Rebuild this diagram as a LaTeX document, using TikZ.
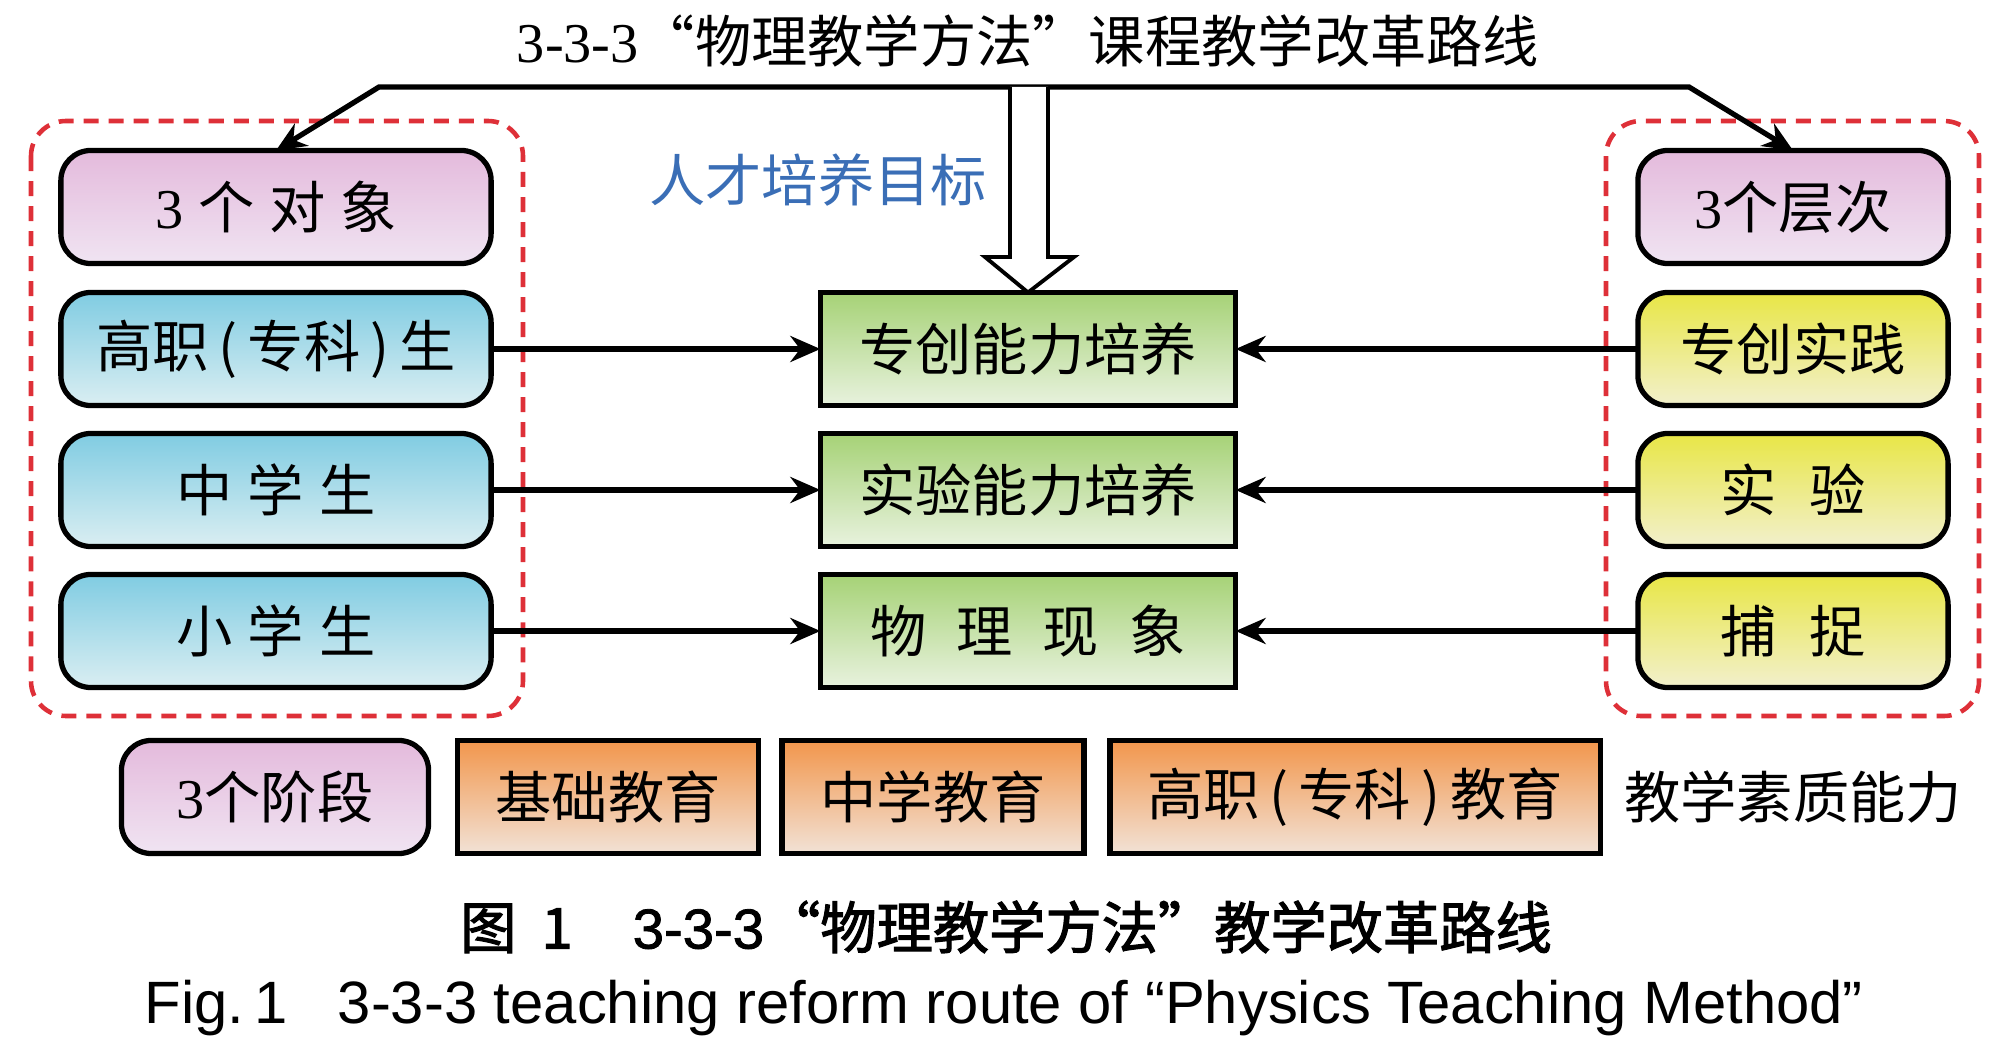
\documentclass[tikz,border=0pt]{standalone}
\usepackage{fontspec}
\setmainfont{Liberation Serif}
\newfontfamily\cjk{Noto Sans CJK SC}
\newfontfamily\cjkb[FakeBold=2]{Noto Sans CJK SC}
\newfontfamily\ser{Liberation Serif}
\newfontfamily\sans{Liberation Sans}
\newfontfamily\sansb[FakeBold=1.5]{Liberation Sans}
\usetikzlibrary{arrows.meta}
\definecolor{pinkT}{RGB}{228,186,220}
\definecolor{pinkB}{RGB}{240,228,242}
\definecolor{blueT}{RGB}{128,204,226}
\definecolor{blueB}{RGB}{218,238,242}
\definecolor{greenT}{RGB}{166,210,118}
\definecolor{greenB}{RGB}{232,242,222}
\definecolor{yelT}{RGB}{232,230,70}
\definecolor{yelB}{RGB}{242,240,204}
\definecolor{oraT}{RGB}{242,150,76}
\definecolor{oraB}{RGB}{242,226,214}
\definecolor{dashred}{RGB}{222,48,56}
\definecolor{tblue}{RGB}{58,110,182}
\tikzset{
  base/.style={draw=black, line width=1.5pt, inner sep=0pt, outer sep=0pt,
    minimum height=1.13cm, font=\cjk\fontsize{16pt}{18pt}\selectfont, align=center},
  rbox/.style={base, rounded corners=0.3cm},
  pinkbox/.style={rbox, top color=pinkT, bottom color=pinkB},
  bluebox/.style={rbox, top color=blueT, bottom color=blueB, minimum width=4.3cm},
  yelbox/.style={rbox, top color=yelT, bottom color=yelB, minimum width=3.1cm},
  greenbox/.style={base, top color=greenT, bottom color=greenB, minimum width=4.15cm},
  orabox/.style={base, top color=oraT, bottom color=oraB},
  arr/.style={line width=1.5pt, -{Stealth[length=0.3cm,width=0.26cm]}},
  grp/.style={draw=dashred, line width=1.3pt, dash pattern=on 0.15cm off 0.1cm, rounded corners=0.35cm}
}
\begin{document}
\begin{tikzpicture}[x=0.01cm,y=-0.01cm]
\useasboundingbox (0,0) rectangle (2000,1052);
% title
\node[font=\cjk\fontsize{16pt}{18pt}\selectfont] (title) at (1028,41) {{\ser 3-3-3}“物理教学方法”课程教学改革路线};
% dashed groups
\draw[grp] (31,121) rectangle (523,716);
\draw[grp] (1606,121) rectangle (1979,716);
% left column
\node[pinkbox, minimum width=4.3cm] (obj) at (276,207) {{\ser 3}\hspace{0.15cm}个\hspace{0.15cm}对\hspace{0.15cm}象};
\node[bluebox] (l1) at (276,349) {高职\hspace{0.1cm}(\hspace{0.1cm}专科\hspace{0.1cm})\hspace{0.1cm}生};
\node[bluebox] (l2) at (276,490) {中\hspace{0.15cm}学\hspace{0.15cm}生};
\node[bluebox] (l3) at (276,631) {小\hspace{0.15cm}学\hspace{0.15cm}生};
% center column
\node[greenbox] (g1) at (1028,349) {专创能力培养};
\node[greenbox] (g2) at (1028,490) {实验能力培养};
\node[greenbox] (g3) at (1028,631) {物\hspace{0.3cm}理\hspace{0.3cm}现\hspace{0.3cm}象};
% right column
\node[pinkbox, minimum width=3.1cm] (lvl) at (1793,207) {{\ser 3}个层次};
\node[yelbox] (r1) at (1793,349) {专创实践};
\node[yelbox] (r2) at (1793,490) {实\hspace{0.32cm}验};
\node[yelbox] (r3) at (1793,631) {捕\hspace{0.32cm}捉};
% bottom row
\node[pinkbox, minimum width=3.07cm] (stage) at (275,797) {{\ser 3}个阶段};
\node[orabox, minimum width=3.01cm] (b1) at (608,797) {基础教育};
\node[orabox, minimum width=3.02cm] (b2) at (933,797) {中学教育};
\node[orabox, minimum width=4.9cm] (b3) at (1355,797) {高职\hspace{0.1cm}(\hspace{0.1cm}专科\hspace{0.1cm})\hspace{0.1cm}教育};
\node[font=\cjk\fontsize{16pt}{18pt}\selectfont] (abil) at (1793,797) {教学素质能力};
% talent goal label
\node[font=\cjk\fontsize{16pt}{18pt}\selectfont, text=tblue] (goal) at (818,180) {人才培养目标};
% horizontal arrows
\draw[arr] (l1.east) -- (g1.west);
\draw[arr] (l2.east) -- (g2.west);
\draw[arr] (l3.east) -- (g3.west);
\draw[arr] (r1.west) -- (g1.east);
\draw[arr] (r2.west) -- (g2.east);
\draw[arr] (r3.west) -- (g3.east);
% top connector
\coordinate (tl) at (379,87);
\coordinate (tr) at (1689,87);
\draw[line width=1.5pt, {Stealth[length=0.3cm,width=0.26cm]}-{Stealth[length=0.3cm,width=0.26cm]}, line join=miter] (obj.north) -- (tl) -- (tr) -- (lvl.north);
% hollow arrow
\draw[line width=1.1pt, fill=white, line join=miter] (1010,87) -- (1010,257) -- (985,257) -- (g1.north) -- (1074,257) -- (1048,257) -- (1048,87);
% captions
\node[font=\cjkb\fontsize{16pt}{18pt}\selectfont] (capcn) at (1006,927) {图\hspace{0.25cm}1\hspace{0.6cm}{\sansb 3-3-3}“物理教学方法”教学改革路线};
\node[font=\sans\fontsize{17pt}{19pt}\selectfont] (capen) at (1004,1008) {Fig.\,1\hspace{0.5cm}3-3-3 teaching reform route of “Physics Teaching Method”};
\end{tikzpicture}
\end{document}
